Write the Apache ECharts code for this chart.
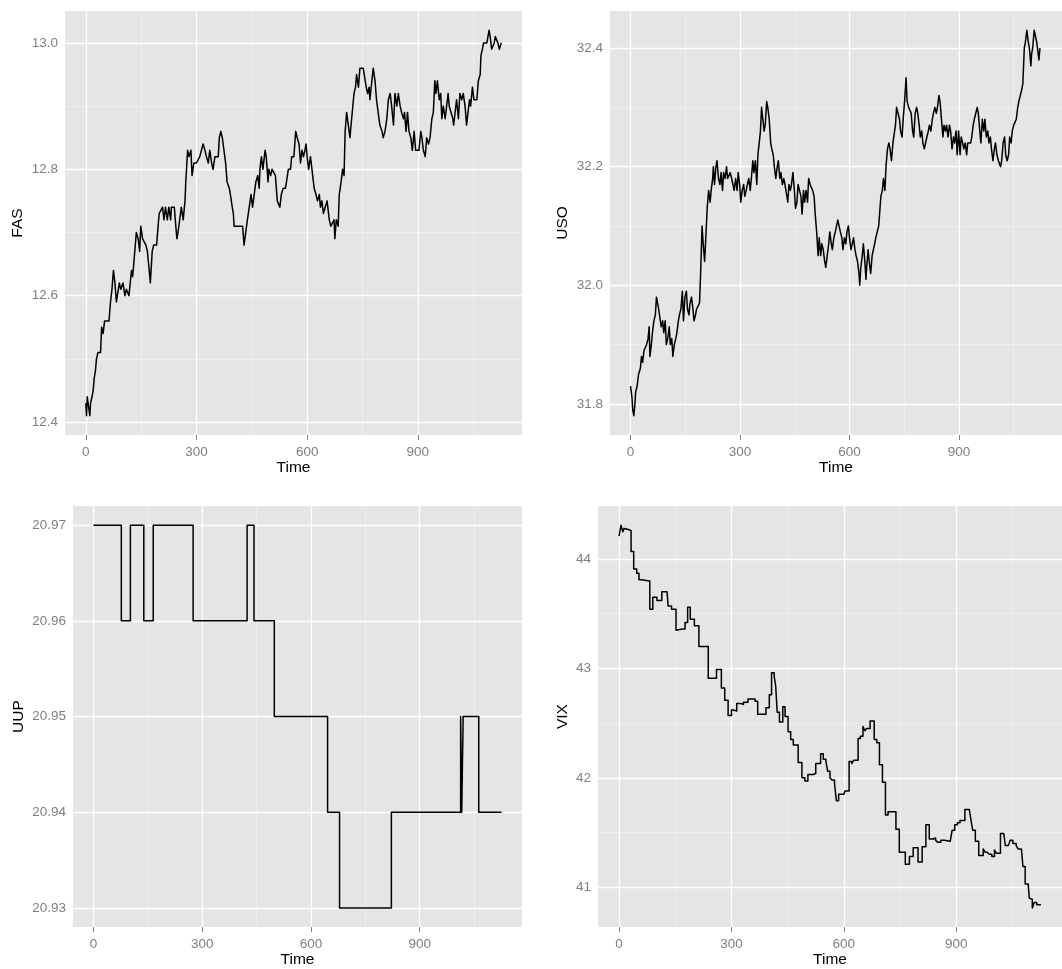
<!DOCTYPE html>
<html>
<head>
<meta charset="utf-8">
<title>FAS / USO / UUP / VIX</title>
<script src="https://cdn.jsdelivr.net/npm/echarts@6/dist/echarts.min.js"></script>
<style>
  html, body { margin: 0; padding: 0; background: #ffffff; }
  #chart { width: 1062px; height: 969px; }
</style>
</head>
<body>
<div id="chart"></div>
<script>
// ---------------------------------------------------------------------------
// Data: intraday ticks, time index vs. price
// ---------------------------------------------------------------------------
const timeMajorTicks = [0, 300, 600, 900];
const timeMinorTicks = [150, 450, 750, 1050];

// FAS
const fasTime = [0,2,4,11,13,17,20,23,26,29,33,40,43,47,51,56,63,67,71,75,79,83,88,91,95,101,106,110,117,121,124,127,130,134,137,142,146,149,154,158,163,167,172,175,180,184,192,196,199,203,208,212,216,221,225,230,232,240,244,247,250,255,259,264,269,271,276,280,285,288,293,300,305,309,314,318,323,327,332,336,341,345,350,354,359,362,366,370,374,379,383,389,392,397,400,402,409,418,425,429,433,438,443,448,452,457,461,466,470,472,476,480,486,489,494,496,501,505,510,514,519,524,526,530,535,541,544,549,555,558,564,569,573,578,582,586,590,594,597,600,604,609,613,615,619,624,628,633,636,640,644,649,654,657,660,664,668,673,675,679,684,687,692,696,700,703,707,711,716,719,723,727,731,734,739,743,748,752,757,760,764,768,770,774,779,784,788,793,797,803,806,811,816,820,825,829,834,838,843,847,852,856,861,864,868,872,876,881,885,890,894,899,903,908,911,915,920,924,929,933,938,942,946,949,953,958,962,965,969,974,978,982,985,990,995,997,1001,1005,1010,1014,1019,1023,1028,1032,1037,1040,1043,1048,1052,1056,1060,1064,1069,1071,1075,1078,1082,1087,1091,1093,1096,1100,1103,1107,1110,1114,1117,1121,1124,1126];
const fasPrice = [12.43,12.41,12.44,12.41,12.43,12.44,12.45,12.47,12.48,12.50,12.51,12.51,12.55,12.54,12.56,12.56,12.56,12.59,12.61,12.64,12.62,12.59,12.59,12.62,12.61,12.62,12.60,12.61,12.60,12.60,12.64,12.63,12.65,12.65,12.70,12.69,12.67,12.71,12.69,12.69,12.68,12.67,12.64,12.62,12.67,12.68,12.68,12.71,12.73,12.73,12.74,12.72,12.74,12.72,12.74,12.72,12.74,12.74,12.71,12.69,12.70,12.70,12.74,12.72,12.75,12.78,12.83,12.82,12.83,12.79,12.81,12.81,12.81,12.82,12.82,12.84,12.83,12.82,12.81,12.83,12.81,12.80,12.82,12.82,12.82,12.85,12.86,12.85,12.85,12.81,12.78,12.77,12.76,12.74,12.73,12.71,12.71,12.71,12.71,12.68,12.68,12.72,12.72,12.76,12.74,12.74,12.78,12.79,12.77,12.80,12.82,12.80,12.83,12.82,12.78,12.80,12.79,12.80,12.80,12.79,12.75,12.75,12.74,12.76,12.77,12.77,12.78,12.80,12.80,12.82,12.82,12.86,12.85,12.84,12.81,12.83,12.82,12.83,12.84,12.82,12.80,12.82,12.82,12.79,12.77,12.76,12.75,12.76,12.74,12.75,12.73,12.73,12.75,12.75,12.72,12.71,12.71,12.72,12.69,12.72,12.71,12.76,12.78,12.80,12.79,12.86,12.89,12.89,12.85,12.87,12.87,12.92,12.93,12.95,12.93,12.96,12.96,12.96,12.96,12.93,12.92,12.93,12.91,12.91,12.96,12.94,12.91,12.91,12.87,12.86,12.85,12.86,12.88,12.91,12.92,12.90,12.87,12.92,12.90,12.92,12.90,12.89,12.88,12.89,12.86,12.89,12.86,12.85,12.83,12.86,12.83,12.83,12.83,12.86,12.85,12.83,12.82,12.85,12.84,12.85,12.88,12.89,12.94,12.92,12.94,12.91,12.92,12.88,12.90,12.88,12.90,12.92,12.90,12.89,12.88,12.87,12.89,12.91,12.88,12.92,12.91,12.92,12.90,12.87,12.87,12.91,12.90,12.93,12.91,12.91,12.91,12.94,12.95,12.98,12.99,13.00,13.00,13.00,13.00,13.02,13.01,12.99,12.99,13.00,13.01,13.01,13.00,12.99,12.99,13.00];
const fasMajorTicks = [12.4, 12.6, 12.8, 13.0];
const fasMinorTicks = [12.5, 12.7, 12.9];

// USO
const usoTime = [0,4,6,9,12,14,18,22,24,27,30,33,37,41,44,48,51,53,57,60,64,68,71,74,77,80,84,88,91,95,98,102,106,109,113,116,120,124,127,131,134,138,142,145,149,153,156,160,163,167,171,174,178,181,185,189,192,196,199,203,207,210,214,218,221,225,227,230,234,237,241,245,248,252,255,259,263,266,270,273,277,281,284,288,292,295,299,302,306,310,313,317,320,324,328,331,335,338,342,346,349,353,356,359,363,366,369,373,376,380,384,387,391,394,398,402,405,409,412,416,420,423,427,431,434,438,441,445,449,452,456,459,463,467,470,474,477,481,485,488,492,495,499,503,506,510,514,517,521,524,528,532,535,539,543,546,550,553,557,561,564,568,571,575,579,582,586,590,593,597,600,604,608,611,615,618,622,626,628,631,635,638,642,645,647,651,654,658,662,665,669,672,676,680,683,686,690,693,697,700,704,708,711,715,719,722,726,729,733,737,740,744,747,751,755,758,762,765,769,773,776,780,784,787,791,794,798,801,805,809,812,816,819,823,827,830,834,838,841,845,848,852,856,859,863,866,870,874,877,881,885,888,892,895,899,903,906,910,913,917,921,924,928,932,935,939,942,946,950,953,957,960,964,968,971,975,979,982,986,989,993,997,1000,1004,1008,1011,1014,1017,1021,1025,1028,1032,1036,1039,1043,1046,1050,1054,1057,1061,1064,1068,1072,1075,1079,1082,1086,1090,1093,1097,1099,1102,1106,1109,1113,1117,1119,1122];
const usoPrice = [31.83,31.81,31.79,31.78,31.80,31.82,31.83,31.85,31.85,31.86,31.88,31.87,31.89,31.89,31.90,31.91,31.93,31.88,31.90,31.92,31.94,31.95,31.98,31.98,31.96,31.96,31.93,31.94,31.92,31.94,31.90,31.91,31.93,31.90,31.91,31.88,31.90,31.91,31.92,31.94,31.95,31.96,31.99,31.94,31.98,31.99,31.96,31.95,31.97,31.98,31.96,31.94,31.95,31.96,31.96,31.97,32.02,32.10,32.07,32.04,32.09,32.13,32.16,32.14,32.16,32.18,32.20,32.17,32.20,32.21,32.18,32.17,32.19,32.16,32.19,32.18,32.20,32.18,32.18,32.19,32.18,32.18,32.16,32.18,32.16,32.19,32.17,32.14,32.16,32.17,32.15,32.16,32.17,32.18,32.16,32.18,32.21,32.19,32.21,32.17,32.22,32.22,32.26,32.30,32.30,32.26,32.27,32.31,32.30,32.28,32.24,32.23,32.22,32.20,32.18,32.20,32.21,32.18,32.19,32.17,32.18,32.17,32.17,32.14,32.17,32.16,32.17,32.19,32.16,32.13,32.14,32.17,32.17,32.15,32.12,32.16,32.14,32.16,32.14,32.18,32.17,32.17,32.16,32.15,32.12,32.09,32.05,32.08,32.05,32.07,32.06,32.04,32.03,32.05,32.07,32.09,32.07,32.06,32.08,32.09,32.09,32.11,32.11,32.09,32.08,32.06,32.08,32.07,32.09,32.10,32.08,32.06,32.06,32.08,32.06,32.05,32.04,32.02,32.00,32.03,32.05,32.07,32.04,32.01,32.03,32.06,32.04,32.02,32.05,32.05,32.07,32.08,32.09,32.10,32.10,32.15,32.16,32.18,32.16,32.20,32.23,32.24,32.23,32.21,32.24,32.24,32.27,32.30,32.30,32.28,32.26,32.25,32.28,32.31,32.35,32.31,32.30,32.30,32.29,32.26,32.25,32.29,32.30,32.29,32.27,32.25,32.26,32.24,32.23,32.23,32.25,32.26,32.27,32.26,32.28,32.29,32.30,32.29,32.30,32.32,32.31,32.28,32.25,32.27,32.26,32.27,32.25,32.27,32.26,32.23,32.25,32.24,32.26,32.22,32.26,32.22,32.25,32.24,32.23,32.24,32.22,32.24,32.24,32.24,32.25,32.27,32.28,32.29,32.30,32.29,32.26,32.24,32.28,32.26,32.28,32.25,32.26,32.24,32.25,32.23,32.21,32.23,32.24,32.22,32.21,32.21,32.20,32.21,32.24,32.25,32.22,32.21,32.22,32.25,32.24,32.26,32.27,32.27,32.28,32.30,32.31,32.31,32.33,32.34,32.40,32.41,32.43,32.41,32.40,32.37,32.39,32.40,32.43,32.43,32.41,32.41,32.38,32.40];
const usoMajorTicks = [31.8, 32.0, 32.2, 32.4];
const usoMinorTicks = [31.9, 32.1, 32.3];

// UUP: price changes (each value holds until the next change)
const uupTime  = [0, 77, 102, 139, 165, 275, 424, 443, 499, 646, 679, 822, 1013, 1016, 1020, 1063, 1126];
const uupPrice = [20.97, 20.96, 20.97, 20.96, 20.97, 20.96, 20.97, 20.96, 20.95, 20.94, 20.93, 20.94, 20.95, 20.94, 20.95, 20.94, 20.94];
const uupMajorTicks = [20.93, 20.94, 20.95, 20.96, 20.97];
const uupMinorTicks = [20.935, 20.945, 20.955, 20.965];

// VIX: level changes (each value holds until the next change)
const vixTime = [0,3,5,10,13,17,25,32,39,47,53,59,82,90,101,114,128,131,140,152,156,169,176,183,190,201,213,238,260,273,282,291,300,306,314,325,332,344,363,370,381,392,401,407,414,418,422,428,437,443,451,458,465,478,488,496,504,519,525,538,545,552,557,563,568,575,580,586,600,603,614,621,626,638,644,651,656,661,670,681,688,695,703,711,718,739,748,764,775,785,798,809,819,828,838,845,850,859,868,873,884,889,896,903,910,923,935,939,944,951,960,972,977,983,988,995,1002,1007,1018,1027,1031,1039,1044,1051,1060,1065,1074,1078,1084,1092,1095,1100,1103,1108,1115,1126];
const vixLevel = [44.21,44.22,44.31,44.25,44.28,44.27,44.26,44.07,43.91,43.87,43.81,43.80,43.54,43.65,43.62,43.70,43.69,43.57,43.54,43.35,43.36,43.36,43.42,43.56,43.45,43.39,43.20,42.91,42.99,42.82,42.71,42.57,42.62,42.61,42.68,42.67,42.69,42.72,42.70,42.58,42.58,42.64,42.76,42.96,42.93,42.84,42.60,42.51,42.65,42.56,42.42,42.35,42.30,42.14,42.00,41.97,42.03,42.04,42.13,42.22,42.17,42.15,42.06,42.00,41.98,41.95,41.79,41.85,41.86,41.88,42.15,42.13,42.16,42.36,42.38,42.47,42.43,42.45,42.52,42.35,42.32,42.12,41.96,41.66,41.69,41.53,41.32,41.21,41.28,41.36,41.23,41.37,41.57,41.44,41.45,41.43,41.41,41.43,41.43,41.42,41.43,41.52,41.57,41.59,41.61,41.71,41.71,41.62,41.52,41.42,41.29,41.35,41.32,41.31,41.30,41.28,41.34,41.31,41.49,41.49,41.38,41.39,41.43,41.40,41.38,41.35,41.35,41.19,41.03,41.02,40.90,40.89,40.81,40.86,40.84,40.84];
const vixMajorTicks = [41, 42, 43, 44];
const vixMinorTicks = [41.5, 42.5, 43.5];

// ---------------------------------------------------------------------------
// Styling
// ---------------------------------------------------------------------------
const FONT = "'Liberation Sans', Arial, Helvetica, sans-serif";
const PANEL_BG = '#E5E5E5';
const TICK_GREY = '#7F7F7F';
const LABEL_SIZE = 13.5;
const TITLE_SIZE = 15.5;
const MAJOR_GRID = { color: '#FFFFFF', width: 1.3, type: 'solid' };
const MINOR_GRID = { color: '#F2F2F2', width: 0.7, type: 'solid' };

// ggplot-style 5% expansion of a data range
function expandRange(values) {
  const lo = Math.min(...values);
  const hi = Math.max(...values);
  const pad = (hi - lo) * 0.05;
  return [lo - pad, hi + pad];
}

const timeRange = expandRange([].concat(fasTime, usoTime, uupTime, vixTime));

const panels = [
  { title: 'FAS', time: fasTime, value: fasPrice, step: false, major: fasMajorTicks, minor: fasMinorTicks, digits: 1,
    box: { left: 65, top: 11, width: 457, height: 424 }, nameGap: 39 },
  { title: 'USO', time: usoTime, value: usoPrice, step: false, major: usoMajorTicks, minor: usoMinorTicks, digits: 1,
    box: { left: 610, top: 11, width: 457, height: 424 }, nameGap: 39 },
  { title: 'UUP', time: uupTime, value: uupPrice, step: 'end', major: uupMajorTicks, minor: uupMinorTicks, digits: 2,
    box: { left: 73, top: 506, width: 449, height: 423 }, nameGap: 46 },
  { title: 'VIX', time: vixTime, value: vixLevel, step: 'end', major: vixMajorTicks, minor: vixMinorTicks, digits: 0,
    box: { left: 598, top: 506, width: 469, height: 423 }, nameGap: 27 }
];

const grid = [];
const xAxis = [];
const yAxis = [];
const series = [];

panels.forEach((p, i) => {
  grid.push({
    left: p.box.left, top: p.box.top, width: p.box.width, height: p.box.height,
    show: true, backgroundColor: PANEL_BG, borderWidth: 0
  });

  xAxis.push({
    type: 'value', gridIndex: i,
    min: timeRange[0], max: timeRange[1],
    name: 'Time', nameLocation: 'middle', nameGap: 23,
    nameTextStyle: { color: '#000000', fontSize: TITLE_SIZE, fontFamily: FONT },
    axisLine: { show: false },
    axisTick: { show: true, length: 5, customValues: timeMajorTicks, lineStyle: { color: TICK_GREY, width: 1 } },
    axisLabel: { customValues: timeMajorTicks, color: TICK_GREY, fontSize: LABEL_SIZE, fontFamily: FONT, margin: 10,
                 formatter: v => String(Math.round(v)) },
    splitLine: { show: false }
  });

  const yr = expandRange(p.value);
  yAxis.push({
    type: 'value', gridIndex: i,
    min: yr[0], max: yr[1],
    name: p.title, nameLocation: 'middle', nameGap: p.nameGap,
    nameTextStyle: { color: '#000000', fontSize: TITLE_SIZE, fontFamily: FONT },
    axisLine: { show: false },
    axisTick: { show: true, length: 5, customValues: p.major, lineStyle: { color: TICK_GREY, width: 1 } },
    axisLabel: { customValues: p.major, color: TICK_GREY, fontSize: LABEL_SIZE, fontFamily: FONT, margin: 7,
                 formatter: v => v.toFixed(p.digits) },
    splitLine: { show: false }
  });

  // panel grid lines: minor first, major on top
  const gridLines = [].concat(
    timeMinorTicks.map(t => ({ xAxis: t, lineStyle: MINOR_GRID })),
    p.minor.map(v => ({ yAxis: v, lineStyle: MINOR_GRID })),
    timeMajorTicks.map(t => ({ xAxis: t, lineStyle: MAJOR_GRID })),
    p.major.map(v => ({ yAxis: v, lineStyle: MAJOR_GRID }))
  );

  series.push({
    name: p.title,
    type: 'line',
    xAxisIndex: i, yAxisIndex: i,
    data: p.time.map((t, k) => [t, p.value[k]]),
    step: p.step,
    showSymbol: false,
    symbol: 'none',
    silent: true,
    z: 3,
    lineStyle: { color: '#000000', width: 1.5, join: 'round' },
    markLine: {
      silent: true,
      symbol: ['none', 'none'],
      z: 1,
      animation: false,
      label: { show: false },
      emphasis: { disabled: true },
      data: gridLines
    }
  });
});

const chart = echarts.init(document.getElementById('chart'), null, { renderer: 'canvas' });
chart.setOption({
  animation: false,
  backgroundColor: '#FFFFFF',
  textStyle: { fontFamily: FONT },
  grid: grid,
  xAxis: xAxis,
  yAxis: yAxis,
  series: series
});
</script>
</body>
</html>
